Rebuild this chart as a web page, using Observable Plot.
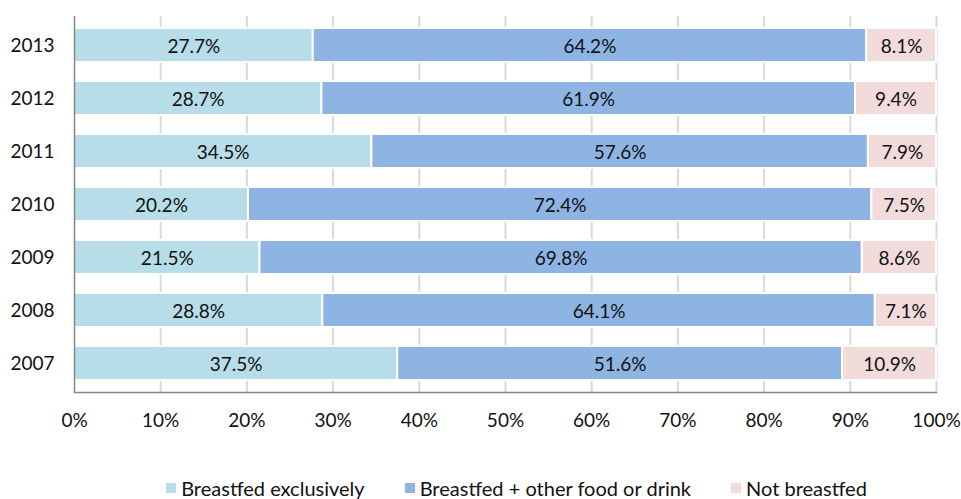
<!DOCTYPE html>
<html>
<head>
<meta charset="utf-8">
<script src="https://cdn.jsdelivr.net/npm/d3@7"></script>
<script src="https://cdn.jsdelivr.net/npm/@observablehq/plot@0.6"></script>
<style>
  html, body { margin: 0; padding: 0; background: #fff; }
  body { width: 961px; height: 499px; overflow: hidden; font-family: Lato, "Open Sans", sans-serif; }
  #legend { display: flex; justify-content: center; gap: 40px; margin-top: 17px; padding-left: 72px; font-size: 20px; line-height: 22px; color: #111; }
  #legend .item { display: flex; align-items: center; white-space: nowrap; }
  #legend .sw { width: 10px; height: 10px; margin-right: 5px; display: inline-block; }
</style>
</head>
<body>
<div id="chart"></div>
<div id="legend"></div>
<script>
const years = ["2013", "2012", "2011", "2010", "2009", "2008", "2007"];
const series = ["Breastfed exclusively", "Breastfed + other food or drink", "Not breastfed"];
const exclusive = [27.7, 28.7, 34.5, 20.2, 21.5, 28.8, 37.5];
const mixed = [64.2, 61.9, 57.6, 72.4, 69.8, 64.1, 51.6];
const notBreastfed = [8.1, 9.4, 7.9, 7.5, 8.6, 7.1, 10.9];
const colors = ["#b7dde8", "#8eb4e3", "#f2dcdb"];
const xTicks = [0, 0.1, 0.2, 0.3, 0.4, 0.5, 0.6, 0.7, 0.8, 0.9, 1];

const valuesBySeries = [exclusive, mixed, notBreastfed];
const data = [];
series.forEach((s, si) => {
  years.forEach((y, yi) => {
    data.push({year: y, series: s, value: valuesBySeries[si][yi]});
  });
});

const stackOpts = {x: "value", y: "year", z: "series", order: series, offset: "normalize"};
const fmtPct = d => Math.round(d * 100) + "%";

const chart = Plot.plot({
  width: 961,
  height: 460,
  marginLeft: 74,
  marginRight: 25,
  marginTop: 16,
  marginBottom: 68,
  style: {fontFamily: "Lato, 'Open Sans', sans-serif", fontSize: "19px", color: "#111", background: "#fff"},
  x: {domain: [0, 1], label: null},
  y: {domain: years, paddingInner: 0.366, paddingOuter: 0.187, label: null},
  color: {domain: series, range: colors},
  marks: [
    Plot.ruleX(xTicks.slice(1), {stroke: "#d9d9d9", strokeWidth: 2}),
    Plot.barX(data, Plot.stackX({...stackOpts, fill: "series", stroke: "#fff", strokeWidth: 2})),
    Plot.text(data, Plot.stackX({...stackOpts, text: d => d.value.toFixed(1) + "%", fill: "#111", fontSize: 19, dy: 1})),
    Plot.ruleX([0], {stroke: "#868686", strokeWidth: 1.5}),
    Plot.frame({anchor: "bottom", stroke: "#868686", strokeWidth: 1.5}),
    Plot.axisX({ticks: xTicks, tickFormat: fmtPct, tickSize: 0, tickPadding: 21, fontSize: 19, label: null}),
    Plot.axisY({tickSize: 0, tickPadding: 20, fontSize: 19, label: null})
  ]
});
document.getElementById("chart").appendChild(chart);

const legend = document.getElementById("legend");
series.forEach((s, i) => {
  const item = document.createElement("div");
  item.className = "item";
  const sw = document.createElement("span");
  sw.className = "sw";
  sw.style.background = colors[i];
  const t = document.createElement("span");
  t.textContent = s;
  item.appendChild(sw);
  item.appendChild(t);
  legend.appendChild(item);
});
</script>
</body>
</html>
